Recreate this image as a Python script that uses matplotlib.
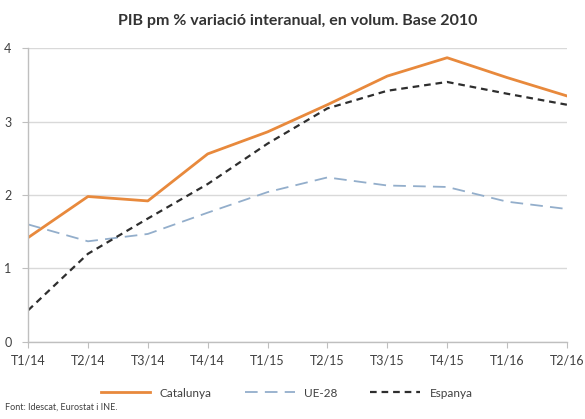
import matplotlib

matplotlib.use("Agg")

import matplotlib.pyplot as plt


# ============================================================
# DADES
# ============================================================

trimestres = [
    "T1/14", "T2/14", "T3/14", "T4/14", "T1/15",
    "T2/15", "T3/15", "T4/15", "T1/16", "T2/16",
]

catalunya = [1.42, 1.98, 1.92, 2.56, 2.86, 3.23, 3.62, 3.87, 3.60, 3.35]

ue28 = [1.60, 1.37, 1.47, 1.76, 2.04, 2.24, 2.13, 2.11, 1.91, 1.81]

espanya = [0.43, 1.20, 1.68, 2.15, 2.70, 3.18, 3.42, 3.54, 3.38, 3.23]

eix_y = [0, 1, 2, 3, 4]


# ============================================================
# GRAFIC
# ============================================================

plt.rcParams["font.family"] = ["Lato", "DejaVu Sans"]

figure = plt.figure(figsize=(5.85, 4.19), dpi=100)

axis = figure.add_axes([0.048, 0.184, 0.921, 0.701])

posicions = range(len(trimestres))

axis.plot(
    posicions,
    catalunya,
    color="#E8893C",
    linewidth=2.0,
    label="Catalunya",
)

axis.plot(
    posicions,
    ue28,
    color="#93AECB",
    linewidth=1.3,
    dashes=(7, 4),
    label="UE-28",
)

axis.plot(
    posicions,
    espanya,
    color="#2E2E2E",
    linewidth=1.6,
    dashes=(3, 2.2),
    label="Espanya",
)

axis.set_xlim(0, len(trimestres) - 1)
axis.set_ylim(0, 4)

axis.set_xticks(list(posicions))
axis.set_xticklabels(trimestres, fontsize=9, color="#404040")

axis.set_yticks(eix_y)
axis.set_yticklabels([str(v) for v in eix_y], fontsize=9, color="#404040")

axis.yaxis.grid(True, color="#D9D9D9", linewidth=1.0)
axis.set_axisbelow(True)

for lloc in ["top", "right"]:
    axis.spines[lloc].set_visible(False)

for lloc in ["left", "bottom"]:
    axis.spines[lloc].set_color("#BFBFBF")
    axis.spines[lloc].set_linewidth(1.0)

axis.tick_params(axis="x", length=4, color="#BFBFBF", pad=5)
axis.tick_params(axis="y", length=4, color="#BFBFBF", pad=8)

axis.set_title(
    "PIB pm % variació interanual, en volum. Base 2010",
    fontsize=11.5,
    fontweight="bold",
    color="#333333",
    pad=17,
)

figure.legend(
    loc="center",
    bbox_to_anchor=(0.49, 0.062),
    ncol=3,
    frameon=False,
    fontsize=8.5,
    handlelength=4.2,
    columnspacing=2.8,
    labelcolor="#404040",
)

figure.text(
    0.008,
    0.022,
    "Font: Idescat, Eurostat i INE.",
    fontsize=6.5,
    color="#404040",
)

figure.savefig("out.png", dpi=100)

plt.close(figure)
